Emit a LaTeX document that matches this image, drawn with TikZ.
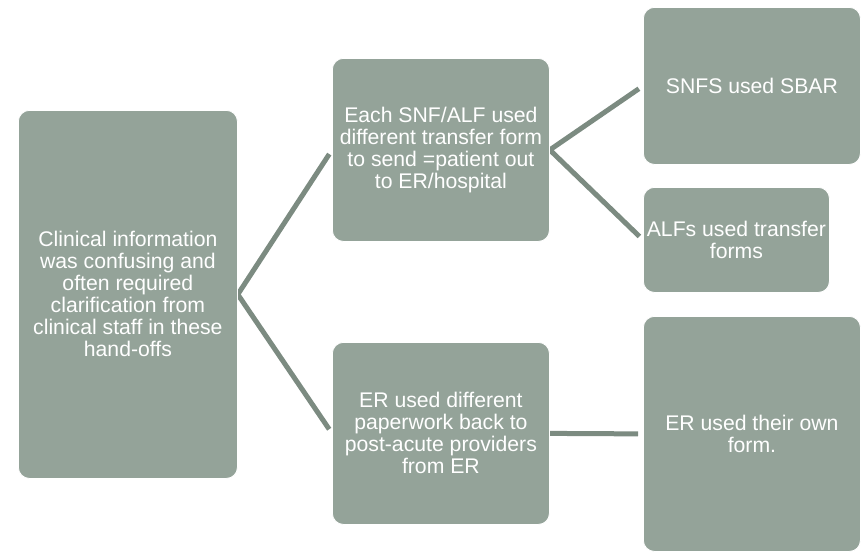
\documentclass[tikz,border=0pt]{standalone}
\usepackage{fontspec}
\setmainfont{Liberation Sans}
\definecolor{boxfill}{RGB}{148,163,153}
\definecolor{linkcol}{RGB}{124,139,129}
\pgfdeclarelayer{bg}
\pgfsetlayers{bg,main}
\begin{document}
\begin{tikzpicture}[x=1pt,y=-1pt,
  card/.style={draw=white, line width=0.8pt, fill=boxfill, rounded corners=11pt,
    text=white, align=center, font=\fontsize{21.2}{22}\selectfont,
    inner sep=0pt, anchor=north west},
  link/.style={draw=linkcol, line width=5pt, shorten >=5pt}]
\useasboundingbox (0,0) rectangle (864,554);
\node[card, minimum width=219pt, minimum height=368pt] (root) at (18,110)
  {Clinical information\\was confusing and\\often required\\clarification from\\clinical staff in these\\hand-offs};
\node[card, minimum width=217pt, minimum height=183pt] (mt) at (332,58)
  {Each SNF/ALF used\\different transfer form\\to send =patient out\\to ER/hospital};
\node[card, minimum width=217pt, minimum height=182pt] (mb) at (332,342)
  {ER used different\\paperwork back to\\post-acute providers\\from ER};
\node[card, minimum width=217pt, minimum height=157pt] (rt) at (643,7)
  {SNFS used SBAR};
\node[card, minimum width=186pt, minimum height=105pt] (rm) at (643,187)
  {ALFs used transfer\\forms};
\node[card, minimum width=217pt, minimum height=235pt] (rb) at (643,316)
  {ER used their own\\form.};
\begin{pgfonlayer}{bg}
\draw[link] (root.east) -- (mt.west);
\draw[link] (root.east) -- (mb.west);
\draw[link] (mt.east) -- (rt.west);
\draw[link] (mt.east) -- (rm.west);
\draw[link] (mb.east) -- (rb.west);
\end{pgfonlayer}
\end{tikzpicture}
\end{document}
